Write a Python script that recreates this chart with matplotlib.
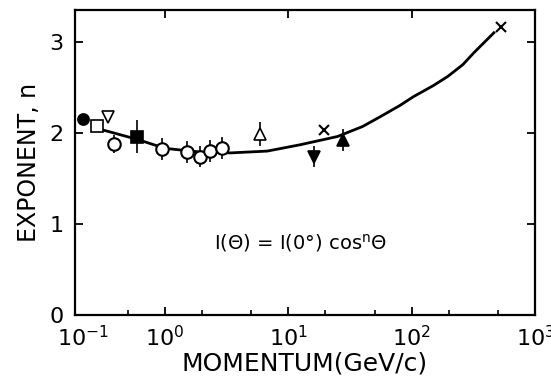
import matplotlib
matplotlib.use("Agg")
import matplotlib.pyplot as plt
import matplotlib.transforms as mtransforms
from matplotlib.ticker import FixedLocator, FixedFormatter, NullFormatter

plt.rcParams["font.family"] = "DejaVu Sans"
plt.rcParams["mathtext.default"] = "regular"

# data
single_p = [0.216, 0.28, 0.344]
single_n = [2.15, 2.08, 2.17]
single_marker = ["o", "s", "v"]
single_face = ["black", "white", "white"]

circ_p = [0.385, 0.95, 1.51, 1.93, 2.32, 2.9]
circ_n = [1.88, 1.82, 1.79, 1.74, 1.80, 1.83]
circ_err = [0.10, 0.12, 0.12, 0.12, 0.12, 0.12]

err_p = [0.59, 5.9, 16.3, 27.5]
err_n = [1.96, 1.99, 1.74, 1.92]
err_e = [0.18, 0.13, 0.12, 0.12]
err_marker = ["s", "^", "v", "^"]
err_face = ["black", "white", "black", "black"]

cross_p = [19.3, 527]
cross_n = [2.03, 3.16]

curve_p = [0.28, 0.592, 1.0, 1.93, 3.38, 6.75, 12.5, 25, 40, 56, 80, 104, 150, 196, 260, 319, 464]
curve_n = [2.05, 1.93, 1.83, 1.79, 1.78, 1.80, 1.87, 1.96, 2.07, 2.18, 2.30, 2.40, 2.52, 2.62, 2.75, 2.88, 3.10]

xmin = 10 ** -0.73
xticks = [xmin, 1, 10, 100, 1000]
xticklabels = ["$10^{-1}$", "$10^{0}$", "$10^{1}$", "$10^{2}$", "$10^{3}$"]
xminor = [0.5, 2, 5, 20, 50, 200, 500]

fig = plt.figure(figsize=(5.51, 3.85), dpi=100)
ax = fig.add_axes([0.136, 0.182, 0.835, 0.792])

ax.plot(curve_p, curve_n, color="black", lw=2, zorder=1)

for p, n, m, fc in zip(single_p, single_n, single_marker, single_face):
    ax.plot(p, n, marker=m, ms=8, mfc=fc, mec="black", mew=1.2, ls="none", zorder=3)

ax.errorbar(circ_p, circ_n, yerr=circ_err, fmt="o", ms=9, mfc="white", mec="black",
            mew=1.5, ecolor="black", elinewidth=1.2, capsize=0, zorder=3)

for p, n, e, m, fc in zip(err_p, err_n, err_e, err_marker, err_face):
    ax.errorbar(p, n, yerr=e, fmt=m, ms=9, mfc=fc, mec="black", mew=1.2,
                ecolor="black", elinewidth=1.2, capsize=0, zorder=3)

ax.plot(cross_p, cross_n, "x", ms=7, mec="black", mew=1.5, ls="none", zorder=3)

ax.text(0.49, 0.235, "I(\u0398) = I(0\u00b0) cos$^{n}$\u0398", fontsize=14,
        ha="center", va="center", transform=ax.transAxes)

ax.set_xscale("log")
ax.set_xlim(xmin, 1000)
ax.set_ylim(0, 3.35)
ax.xaxis.set_major_locator(FixedLocator(xticks))
ax.xaxis.set_major_formatter(FixedFormatter(xticklabels))
ax.xaxis.set_minor_locator(FixedLocator(xminor))
ax.xaxis.set_minor_formatter(NullFormatter())
ax.set_yticks([0, 1, 2, 3])

ax.tick_params(which="major", direction="in", length=6, width=1.3, labelsize=16,
               top=True, right=True)
ax.tick_params(axis="x", which="major", pad=7)
ax.tick_params(axis="y", which="major", pad=8)
ax.tick_params(which="minor", direction="in", length=3.5, width=1.2, top=False, right=False)
for s in ax.spines.values():
    s.set_linewidth(1.6)

# the first x label sits a bit to the right of the spine in the original
first = ax.get_xticklabels()[0]
first.set_transform(first.get_transform() + mtransforms.ScaledTranslation(8 / 100, 0, fig.dpi_scale_trans))

ax.set_xlabel("MOMENTUM(GeV/c)", fontsize=18, labelpad=1)
ax.set_ylabel("EXPONENT, n", fontsize=17, labelpad=6)

fig.savefig("out.png", dpi=100)
